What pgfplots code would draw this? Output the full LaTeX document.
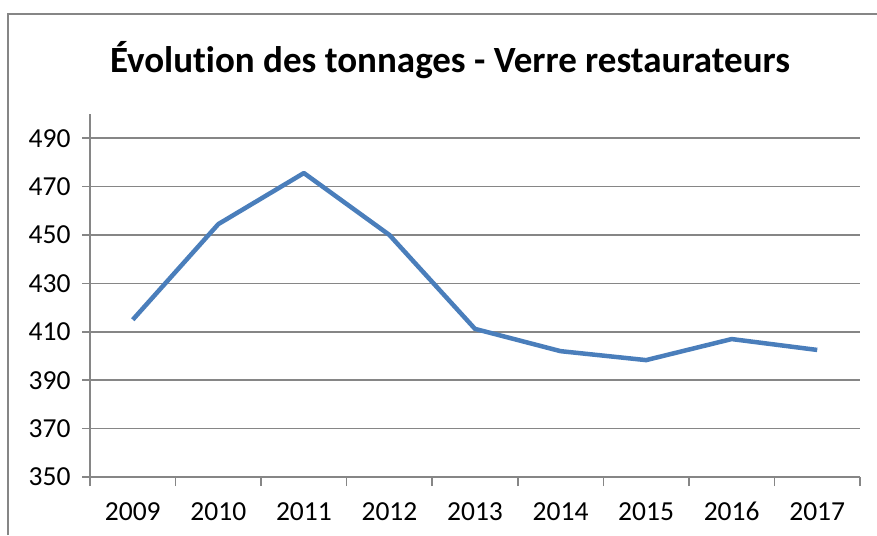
\documentclass[border=0pt]{standalone}
\usepackage{fontspec}
\setmainfont{Carlito}[Ligatures=NoCommon]
\usepackage{pgfplots}
\pgfplotsset{compat=1.18}
\definecolor{linecol}{HTML}{4A7EBB}
\definecolor{gridcol}{HTML}{868686}
\begin{document}
\begin{tikzpicture}[x=1pt,y=1pt]
\useasboundingbox (0,0) rectangle (877,535);
\draw[gridcol, line width=1.5pt] (8,0) -- (8,521) -- (877,521);
\node[font=\fontsize{37}{44}\selectfont\bfseries, anchor=base, inner sep=0pt] at (450,462) {Évolution des tonnages - Verre restaurateurs};
\begin{axis}[
  at={(90pt,58pt)}, anchor=south west,
  scale only axis, width=770pt, height=363pt,
  xmin=-0.5, xmax=8.5, ymin=350, ymax=500,
  axis x line=bottom, axis y line=left,
  axis line style={-, gridcol, line width=1.5pt},
  xtick={0,...,8},
  xticklabels={2009,2010,2011,2012,2013,2014,2015,2016,2017},
  minor xtick={-0.5,0.5,...,8.5},
  major x tick style={draw=none},
  minor x tick style={gridcol, line width=1.5pt},
  minor tick length=9pt,
  ytick={350,370,...,490},
  major tick length=8pt,
  tick align=outside,
  y tick style={gridcol, line width=1.5pt},
  ymajorgrids,
  grid style={gridcol, line width=1.5pt},
  /pgf/number format/assume math mode=true,
  ticklabel style={font=\fontsize{27.5}{32}\selectfont},
  yticklabel style={xshift=-8pt},
  xticklabel style={yshift=-15pt, text height=17pt, text depth=0pt},
]
\addplot[linecol, line width=4.5pt, line join=round, mark=none] coordinates {
(0,415) (1,454.5) (2,475.6) (3,450) (4,411.2) (5,402) (6,398.3) (7,407) (8,402.5)
};
\end{axis}
\end{tikzpicture}
\end{document}
